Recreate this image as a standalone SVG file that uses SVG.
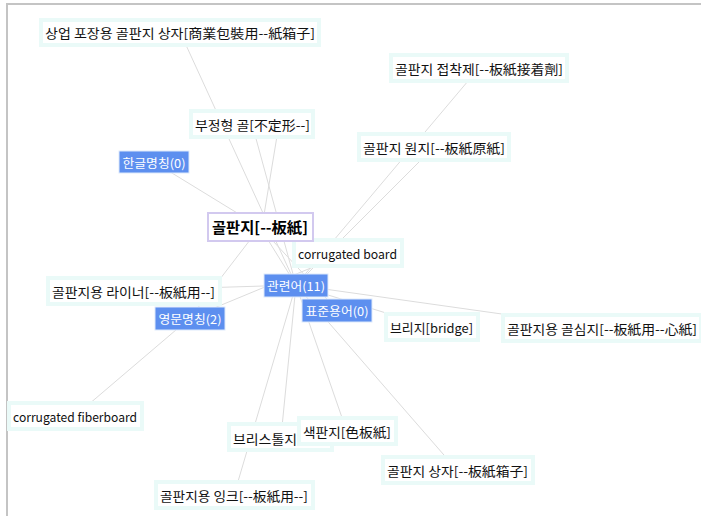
<svg xmlns="http://www.w3.org/2000/svg" width="701" height="516" viewBox="0 0 701 516">
<style>
.bg{fill:#ffffff}
.frame{stroke:#c4c4c4;stroke-width:2;fill:none}
.edge{stroke:#dcdcdc;stroke-width:1;fill:none}
.term rect{fill:#ffffff;stroke:#eafaf8;stroke-width:4}
.term text{font-family:"Noto Sans CJK KR","Liberation Sans",sans-serif;font-size:13px;fill:#111111;dominant-baseline:central}
.cat rect{fill:#5d8fef;stroke:#dde9fb;stroke-width:1}
.cat text{font-family:"Noto Sans CJK KR","Liberation Sans",sans-serif;font-size:12px;fill:#ffffff;dominant-baseline:central;text-anchor:middle}
.main rect{fill:#ffffff;stroke:#d2c9ef;stroke-width:2}
.main text{font-family:"Noto Sans CJK KR","Liberation Sans",sans-serif;font-size:15px;font-weight:bold;fill:#000000;dominant-baseline:central}
</style>
<rect class="bg" x="0" y="0" width="701" height="516"/>
<path class="frame" d="M7,516 V4 H701"/>
<g id="connectors">
<line class="edge" x1="296" y1="285" x2="180" y2="32"/>
<line class="edge" x1="296" y1="285" x2="252" y2="124"/>
<line class="edge" x1="278" y1="130" x2="262" y2="227"/>
<line class="edge" x1="296" y1="285" x2="479" y2="68"/>
<line class="edge" x1="296" y1="285" x2="434" y2="147"/>
<line class="edge" x1="296" y1="285" x2="134" y2="290"/>
<line class="edge" x1="296" y1="285" x2="431" y2="327"/>
<line class="edge" x1="296" y1="285" x2="601" y2="328"/>
<line class="edge" x1="296" y1="285" x2="457" y2="470"/>
<line class="edge" x1="296" y1="285" x2="347" y2="432"/>
<line class="edge" x1="296" y1="285" x2="281" y2="437"/>
<line class="edge" x1="296" y1="285" x2="234" y2="495"/>
<line class="edge" x1="260" y1="227" x2="154" y2="162"/>
<line class="edge" x1="260" y1="227" x2="296" y2="285"/>
<line class="edge" x1="260" y1="227" x2="190" y2="318"/>
<line class="edge" x1="260" y1="227" x2="337" y2="310"/>
<line class="edge" x1="190" y1="318" x2="347" y2="253"/>
<line class="edge" x1="190" y1="318" x2="75" y2="416"/>
</g>
<g id="n-sangeop" class="term"><rect x="41" y="20" width="278" height="25"/><text x="45" y="32" textLength="270" lengthAdjust="spacingAndGlyphs">상업 포장용 골판지 상자[商業包裝用--紙箱子]</text></g>
<g id="n-bujeong" class="term"><rect x="191" y="111" width="122" height="26"/><text x="195" y="124" textLength="115" lengthAdjust="spacingAndGlyphs">부정형 골[不定形--]</text></g>
<g id="n-jeopchak" class="term"><rect x="391" y="55" width="176" height="26"/><text x="395" y="68" textLength="168" lengthAdjust="spacingAndGlyphs">골판지 접착제[--板紙接着劑]</text></g>
<g id="n-wonji" class="term"><rect x="359" y="134" width="150" height="26"/><text x="363" y="147" textLength="142" lengthAdjust="spacingAndGlyphs">골판지 원지[--板紙原紙]</text></g>
<g id="n-cboard" class="term"><rect x="294" y="240" width="108" height="26"/><text x="298" y="253" textLength="99" lengthAdjust="spacingAndGlyphs">corrugated board</text></g>
<g id="n-liner" class="term"><rect x="48" y="278" width="172" height="26"/><text x="52" y="291" textLength="163" lengthAdjust="spacingAndGlyphs">골판지용 라이너[--板紙用--]</text></g>
<g id="n-bridge" class="term"><rect x="386" y="314" width="92" height="26"/><text x="390" y="327" textLength="83" lengthAdjust="spacingAndGlyphs">브리지[bridge]</text></g>
<g id="n-golsim" class="term"><rect x="503" y="315" width="198" height="26"/><text x="507" y="328" textLength="190" lengthAdjust="spacingAndGlyphs">골판지용 골심지[--板紙用--心紙]</text></g>
<g id="n-cfiber" class="term"><rect x="9" y="403" width="133" height="26"/><text x="13" y="416" textLength="124" lengthAdjust="spacingAndGlyphs">corrugated fiberboard</text></g>
<g id="n-bristol" class="term"><rect x="229" y="424" width="103" height="26"/><text x="233" y="438" textLength="64" lengthAdjust="spacingAndGlyphs">브리스톨지</text></g>
<g id="n-saek" class="term"><rect x="299" y="418" width="97" height="26"/><text x="303" y="431" textLength="88" lengthAdjust="spacingAndGlyphs">색판지[色板紙]</text></g>
<g id="n-sangja" class="term"><rect x="383" y="457" width="150" height="26"/><text x="387" y="470" textLength="141" lengthAdjust="spacingAndGlyphs">골판지 상자[--板紙箱子]</text></g>
<g id="n-ink" class="term"><rect x="156" y="482" width="157" height="26"/><text x="160" y="495" textLength="148" lengthAdjust="spacingAndGlyphs">골판지용 잉크[--板紙用--]</text></g>
<g id="n-center" class="main"><rect x="208" y="213" width="105" height="28"/><text x="212" y="226" textLength="96" lengthAdjust="spacingAndGlyphs">골판지[--板紙]</text></g>
<g id="c-hangul" class="cat"><rect x="119" y="151" width="70" height="22"/><text x="154" y="162" textLength="63" lengthAdjust="spacingAndGlyphs">한글명칭(0)</text></g>
<g id="c-related" class="cat"><rect x="264" y="274" width="64" height="23"/><text x="296" y="285" textLength="58" lengthAdjust="spacingAndGlyphs">관련어(11)</text></g>
<g id="c-english" class="cat"><rect x="155" y="307" width="70" height="23"/><text x="190" y="318" textLength="63" lengthAdjust="spacingAndGlyphs">영문명칭(2)</text></g>
<g id="c-standard" class="cat"><rect x="302" y="299" width="70" height="23"/><text x="337" y="310" textLength="63" lengthAdjust="spacingAndGlyphs">표준용어(0)</text></g>
</svg>
